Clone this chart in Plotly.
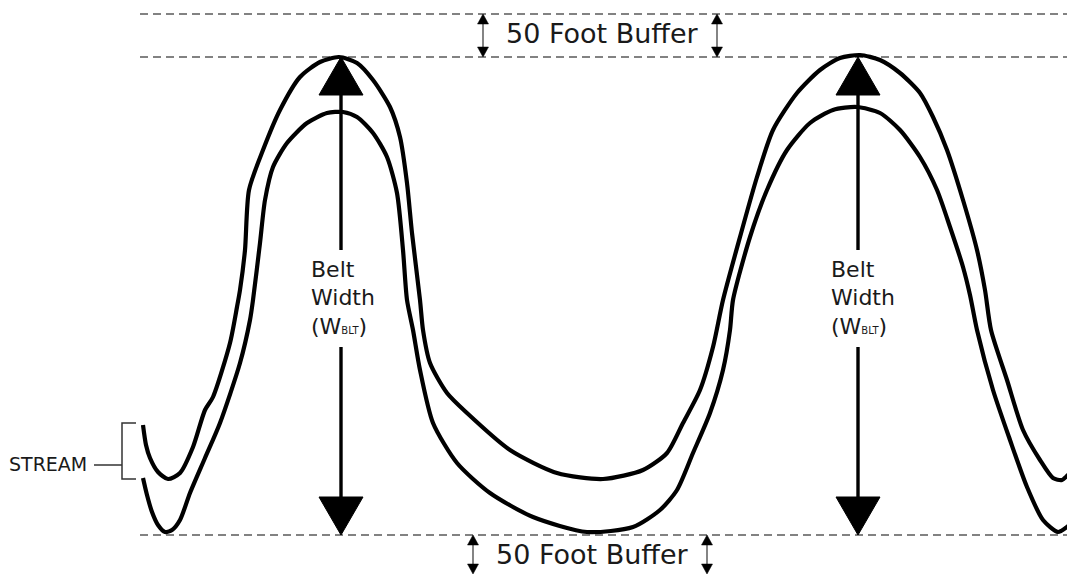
import plotly.graph_objects as go

# ---- Diagram data (pixel-space coordinates of the sketch) ----
# Upper stream bank (outer at the crests, inner at the trough)
bank_a_x = [143, 146, 150, 158, 168, 180, 193, 205, 213, 230, 237, 240, 245, 249, 263, 280, 300, 320, 339,
            357, 373, 390, 400, 407, 412, 420, 423, 430, 447, 467, 510, 557, 603, 643, 667, 683, 700, 713,
            723, 740, 757, 773, 797, 820, 840, 860, 880, 900, 920, 933, 947, 963, 977, 985, 991, 1007, 1023,
            1040, 1053, 1062, 1070, 1075]
bank_a_y = [425, 445, 458, 472, 479, 473, 447, 410, 397, 343, 307, 290, 250, 190, 150, 110, 77, 62, 57,
            63, 80, 107, 137, 183, 233, 300, 330, 363, 393, 413, 450, 473, 479, 470, 453, 423, 390, 347,
            300, 237, 177, 130, 93, 70, 58, 55, 60, 73, 93, 117, 150, 200, 250, 290, 330, 380, 430,
            460, 478, 480, 473, 470]

# Lower stream bank (inner at the crests, outer at the trough)
bank_b_x = [143, 147, 152, 158, 165, 172, 180, 190, 205, 220, 240, 250, 253, 260, 265, 273, 287, 307, 327,
            343, 357, 373, 387, 397, 403, 407, 413, 420, 433, 457, 490, 533, 587, 633, 660, 677, 693, 710,
            723, 730, 733, 750, 767, 787, 810, 833, 857, 880, 900, 920, 937, 950, 963, 970, 977, 993, 1010,
            1027, 1043, 1058, 1067, 1075]
bank_b_y = [478, 495, 512, 525, 532, 530, 520, 493, 458, 423, 363, 320, 300, 243, 200, 167, 143, 123, 113,
            112, 117, 133, 157, 193, 250, 300, 330, 370, 423, 463, 493, 517, 532, 527, 510, 490, 453, 413,
            370, 330, 300, 237, 190, 150, 123, 110, 107, 113, 130, 157, 190, 227, 267, 295, 330, 390, 440,
            487, 520, 532, 527, 520]

# Buffer reference lines
buffer_line_y = [14, 57, 535]
buffer_line_x0 = 140
buffer_line_x1 = 1075

# Belt width arrows
belt_arrow_x = [341, 858]
belt_top_y = 57
belt_bottom_y = 535
belt_shaft_gaps = [(95, 250), (347, 497)]
belt_label_x = [309, 829]
belt_label_lines = ["Belt", "Width", "(W<span style='font-size:10px'>BLT</span>)"]
belt_label_y = [269, 297, 326]

# Buffer dimension arrows
top_buffer_arrow_x = [483, 717]
top_buffer_span = (14, 57)
bottom_buffer_arrow_x = [473, 707]
bottom_buffer_span = (535, 574)
buffer_text = "50 Foot Buffer"
top_buffer_text_pos = (602, 33)
bottom_buffer_text_pos = (592, 554)

# Stream bracket
bracket_x = [136, 122, 122, 136]
bracket_y = [423, 423, 479, 479]
bracket_tick_x = [94, 122]
bracket_tick_y = [465, 465]
stream_label = "STREAM"
stream_label_pos = (48, 464)

FONT = "DejaVu Sans, Verdana, sans-serif"
TEXT_COLOR = "#1a1a1a"
PAGE_OFFSET = 8  # default body margin of the html page

fig = go.Figure()

# dashed buffer lines
for yv in buffer_line_y:
    fig.add_trace(go.Scatter(x=[buffer_line_x0, buffer_line_x1], y=[yv, yv], mode="lines",
                             line=dict(color="#5a5a5a", width=1.3, dash="8px,5px"),
                             hoverinfo="skip", showlegend=False))

# stream banks
for bx, by in [(bank_a_x, bank_a_y), (bank_b_x, bank_b_y)]:
    fig.add_trace(go.Scatter(x=bx, y=by, mode="lines",
                             line=dict(color="black", width=4.2, shape="spline", smoothing=0.7),
                             hoverinfo="skip", showlegend=False))

# belt width arrows
head_len = 38
head_half = 22
for ax in belt_arrow_x:
    for (s0, s1) in belt_shaft_gaps:
        fig.add_trace(go.Scatter(x=[ax, ax], y=[s0, s1], mode="lines",
                                 line=dict(color="black", width=3.4),
                                 hoverinfo="skip", showlegend=False))
    fig.add_trace(go.Scatter(x=[ax, ax - head_half, ax + head_half, ax],
                             y=[belt_top_y, belt_top_y + head_len, belt_top_y + head_len, belt_top_y],
                             mode="lines", fill="toself", fillcolor="black",
                             line=dict(color="black", width=1), hoverinfo="skip", showlegend=False))
    fig.add_trace(go.Scatter(x=[ax, ax - head_half, ax + head_half, ax],
                             y=[belt_bottom_y, belt_bottom_y - head_len, belt_bottom_y - head_len, belt_bottom_y],
                             mode="lines", fill="toself", fillcolor="black",
                             line=dict(color="black", width=1), hoverinfo="skip", showlegend=False))

# buffer double arrows
small_len = 10
small_half = 5.5
for xs, (y0, y1) in [(top_buffer_arrow_x, top_buffer_span), (bottom_buffer_arrow_x, bottom_buffer_span)]:
    for ax in xs:
        fig.add_trace(go.Scatter(x=[ax, ax], y=[y0 + small_len, y1 - small_len], mode="lines",
                                 line=dict(color="#333333", width=1.2),
                                 hoverinfo="skip", showlegend=False))
        fig.add_trace(go.Scatter(x=[ax, ax - small_half, ax + small_half, ax],
                                 y=[y0, y0 + small_len, y0 + small_len, y0],
                                 mode="lines", fill="toself", fillcolor="black",
                                 line=dict(color="black", width=0.5), hoverinfo="skip", showlegend=False))
        fig.add_trace(go.Scatter(x=[ax, ax - small_half, ax + small_half, ax],
                                 y=[y1, y1 - small_len, y1 - small_len, y1],
                                 mode="lines", fill="toself", fillcolor="black",
                                 line=dict(color="black", width=0.5), hoverinfo="skip", showlegend=False))

# stream bracket
fig.add_trace(go.Scatter(x=bracket_x, y=bracket_y, mode="lines",
                         line=dict(color="#333333", width=1.5), hoverinfo="skip", showlegend=False))
fig.add_trace(go.Scatter(x=bracket_tick_x, y=bracket_tick_y, mode="lines",
                         line=dict(color="#333333", width=1.5), hoverinfo="skip", showlegend=False))

annotations = []
for lx in belt_label_x:
    for txt, ly in zip(belt_label_lines, belt_label_y):
        annotations.append(dict(x=lx, y=ly, text=txt, showarrow=False, xanchor="left", yanchor="middle",
                                font=dict(family=FONT, size=22, color=TEXT_COLOR)))
for (tx, ty) in [top_buffer_text_pos, bottom_buffer_text_pos]:
    annotations.append(dict(x=tx, y=ty, text=buffer_text, showarrow=False, xanchor="center", yanchor="middle",
                            font=dict(family=FONT, size=27, color=TEXT_COLOR)))
annotations.append(dict(x=stream_label_pos[0], y=stream_label_pos[1], text=stream_label, showarrow=False,
                        xanchor="center", yanchor="middle",
                        font=dict(family=FONT, size=19, color=TEXT_COLOR)))

fig.update_layout(
    width=1075 - PAGE_OFFSET, height=575 - PAGE_OFFSET,
    margin=dict(l=0, r=0, t=0, b=0),
    paper_bgcolor="white", plot_bgcolor="white",
    xaxis=dict(range=[PAGE_OFFSET, 1075], visible=False, fixedrange=True),
    yaxis=dict(range=[575, PAGE_OFFSET], visible=False, fixedrange=True),
    annotations=annotations,
    showlegend=False,
)

fig.write_html("out.html", config={"displayModeBar": False})
